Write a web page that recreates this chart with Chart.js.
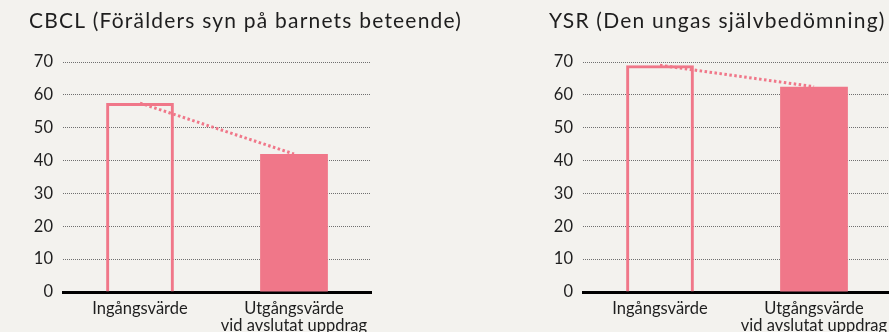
<!DOCTYPE html>
<html lang="sv">
<head>
<meta charset="utf-8">
<title>CBCL och YSR</title>
<script src="https://cdn.jsdelivr.net/npm/chart.js"></script>
<style>
  html, body { margin: 0; padding: 0; background: #f3f2ee; overflow: hidden; }
  .row { width: 1040px; height: 332px; display: flex; }
  .panel { position: relative; width: 520px; height: 332px; }
</style>
</head>
<body>
<div class="row">
  <div class="panel"><canvas id="cbcl"></canvas></div>
  <div class="panel"><canvas id="ysr"></canvas></div>
</div>
<script>
// data
const categories = [['Ingångsvärde'], ['Utgångsvärde', 'vid avslutat uppdrag']];
const cbclValues = [57.5, 42];
const ysrValues = [69, 62.5];
const yMax = 70;
const yStep = 10;

const pink = '#f07789';
const ink = '#1e1e1e';
const fontFamily = 'Lato, "Noto Sans", sans-serif';

// title drawn top-left of each panel
const panelTitle = {
  id: 'panelTitle',
  afterDraw(chart, args, opts) {
    const ctx = chart.ctx;
    ctx.save();
    ctx.fillStyle = ink;
    ctx.font = '21px ' + fontFamily;
    ctx.letterSpacing = '1.2px';
    ctx.textBaseline = 'alphabetic';
    ctx.fillText(opts.text, 29, 28);
    ctx.restore();
  }
};

function makeChart(id, title, values) {
  return new Chart(document.getElementById(id), {
    data: {
      labels: categories,
      datasets: [
        {
          type: 'line',
          data: values,
          borderColor: pink,
          borderWidth: 3,
          borderDash: [2.5, 2.5],
          pointRadius: 0,
          order: 2
        },
        {
          type: 'bar',
          data: values,
          backgroundColor: ['rgba(0,0,0,0)', pink],
          borderColor: [pink, pink],
          borderWidth: [3, 0],
          barPercentage: 0.44,
          categoryPercentage: 1,
          order: 1
        }
      ]
    },
    options: {
      responsive: true,
      maintainAspectRatio: false,
      animation: false,
      layout: { padding: { top: 62, right: 149, bottom: 0, left: 0 } },
      plugins: {
        legend: { display: false },
        tooltip: { enabled: false },
        panelTitle: { text: title }
      },
      scales: {
        x: {
          grid: { display: false },
          border: { color: '#000', width: 3 },
          ticks: {
            color: ink,
            padding: 1,
            maxRotation: 0,
            font: { family: fontFamily, size: 16.5, lineHeight: 0.98 }
          },
          afterFit(scale) { scale.height = 40; }
        },
        y: {
          min: 0,
          max: yMax,
          grid: { color: '#6f6f6f', lineWidth: 1, drawTicks: false },
          border: { display: false, dash: [1, 1] },
          ticks: {
            stepSize: yStep,
            color: ink,
            padding: 10,
            font: { family: fontFamily, size: 16.5 }
          },
          afterFit(scale) { scale.width = 63; }
        }
      }
    },
    plugins: [panelTitle]
  });
}

makeChart('cbcl', 'CBCL (Förälders syn på barnets beteende)', cbclValues);
makeChart('ysr', 'YSR (Den ungas självbedömning)', ysrValues);
</script>
</body>
</html>
